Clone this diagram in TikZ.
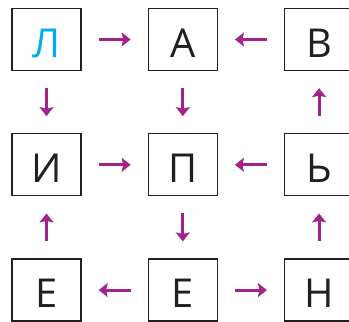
\documentclass[tikz,border=0pt]{standalone}
\usepackage{fontspec}
\setmainfont{Open Sans}
\usetikzlibrary{positioning, arrows.meta}
\definecolor{arrowpurple}{RGB}{163,35,142}
\definecolor{letterblue}{RGB}{0,174,239}
\definecolor{boxblack}{RGB}{35,31,32}

\begin{document}
\begin{tikzpicture}[
    node distance=62bp and 66bp,
    box/.style={rectangle, draw=boxblack, line width=1.3bp, minimum width=69bp, minimum height=62bp, inner sep=0pt, text height=35bp, text depth=0pt, font=\fontsize{40}{40}\selectfont, text=boxblack},
    arrow/.style={line width=3bp, arrowpurple, -{Stealth[length=9bp,width=14bp,inset=1.5bp]}, shorten <=17bp, shorten >=17bp}
]
\useasboundingbox (0,0) rectangle (349bp,-322bp);

% Top row
\node (l) [box, text=letterblue] at (46.5bp,-39.5bp) {Л};
\node (a) [box, right=of l] {А};
\node (v) [box, right=of a] {В};

% Middle row
\node (i) [box, below=of l] {И};
\node (p) [box, below=of a] {П};
\node (soft) [box, below=of v] {Ь};

% Bottom row
\node (e1) [box, below=of i] {Е};
\node (e2) [box, below=of p] {Е};
\node (n) [box, below=of soft] {Н};

% Connections
\draw [arrow] (l) -- (a);
\draw [arrow] (v) -- (a);
\draw [arrow] (l) -- (i);
\draw [arrow] (a) -- (p);
\draw [arrow] (soft) -- (v);
\draw [arrow] (i) -- (p);
\draw [arrow] (soft) -- (p);
\draw [arrow] (e1) -- (i);
\draw [arrow] (p) -- (e2);
\draw [arrow] (n) -- (soft);
\draw [arrow] (e2) -- (e1);
\draw [arrow] (e2) -- (n);

\end{tikzpicture}
\end{document}
